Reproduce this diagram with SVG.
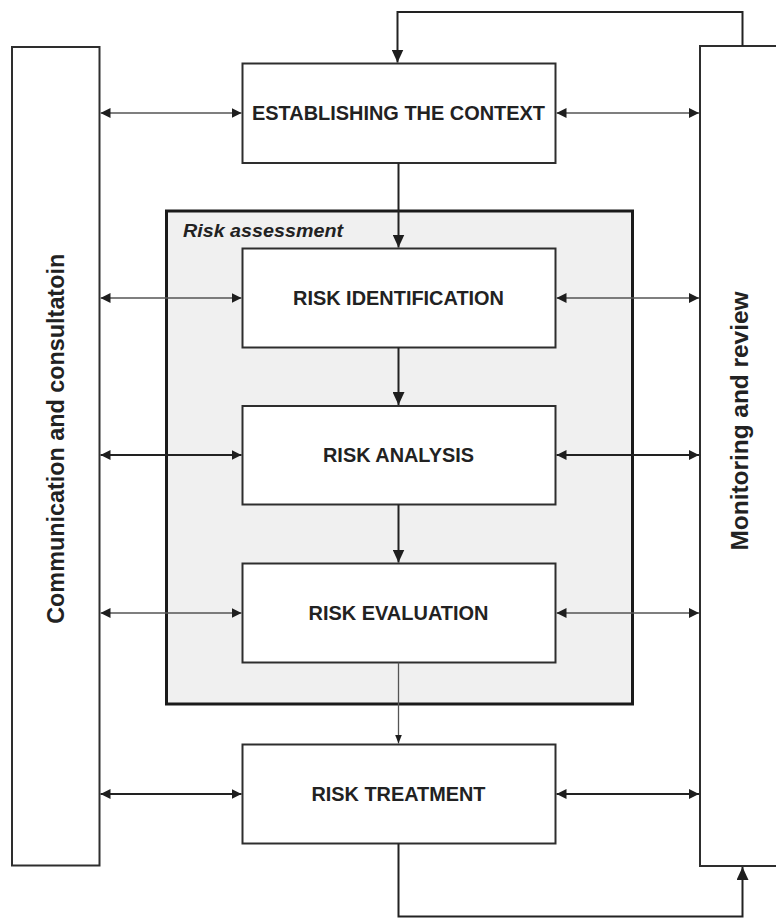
<svg xmlns="http://www.w3.org/2000/svg" width="776" height="919" viewBox="0 0 776 919">
<style>
.box{fill:#fff;stroke:#2e2e2e;stroke-width:2}
.bar{fill:#fff;stroke:#2e2e2e;stroke-width:2}
.lbl{font-family:"Liberation Sans",Arial,sans-serif;font-weight:bold;font-size:19.7px;fill:#222;text-anchor:middle}
.side{font-family:"Liberation Sans",Arial,sans-serif;font-weight:bold;font-size:23.4px;fill:#222;text-anchor:middle}
.thin{fill:none;stroke:#555;stroke-width:1.3}
.thick{fill:none;stroke:#222;stroke-width:2}
</style>
<defs>
<marker id="ah" markerUnits="userSpaceOnUse" markerWidth="10" markerHeight="10" refX="10" refY="5" orient="auto-start-reverse"><path d="M0,0 L10,5 L0,10 z" fill="#1e1e1e"/></marker>
<marker id="av" markerUnits="userSpaceOnUse" markerWidth="13" markerHeight="12" refX="13" refY="6" orient="auto"><path d="M0,0 L13,6 L0,12 z" fill="#1e1e1e"/></marker>
<marker id="as" markerUnits="userSpaceOnUse" markerWidth="9" markerHeight="7" refX="9" refY="3.5" orient="auto"><path d="M0,0 L9,3.5 L0,7 z" fill="#1e1e1e"/></marker>
</defs>

<g id="comm">
<rect class="bar" x="12" y="47" width="87.5" height="818.5"/>
<text class="side" transform="translate(63.5,438.8) rotate(-90)" textLength="370" lengthAdjust="spacingAndGlyphs">Communication and consultatoin</text>
</g>
<g id="monitor">
<rect class="bar" x="700" y="46" width="100" height="820"/>
<text class="side" transform="translate(747.5,421) rotate(-90)" textLength="259" lengthAdjust="spacingAndGlyphs">Monitoring and review</text>
</g>
<g id="assessment">
<rect x="166.5" y="211" width="466" height="493" fill="#f0f0f0" stroke="#1a1a1a" stroke-width="3"/>
<text x="183" y="237" font-family="'Liberation Sans',Arial,sans-serif" font-weight="bold" font-style="italic" font-size="18.5" fill="#222" textLength="160" lengthAdjust="spacingAndGlyphs">Risk assessment</text>
</g>
<g id="context">
<rect class="box" x="242.5" y="63.5" width="313" height="99.5"/>
<text class="lbl" x="398.5" y="120" textLength="293" lengthAdjust="spacingAndGlyphs">ESTABLISHING THE CONTEXT</text>
</g>
<g id="identification">
<rect class="box" x="242.5" y="248.5" width="313" height="99"/>
<text class="lbl" x="398.5" y="305" textLength="211" lengthAdjust="spacingAndGlyphs">RISK IDENTIFICATION</text>
</g>
<g id="analysis">
<rect class="box" x="242.5" y="406" width="313" height="98.5"/>
<text class="lbl" x="398.5" y="462" textLength="151" lengthAdjust="spacingAndGlyphs">RISK ANALYSIS</text>
</g>
<g id="evaluation">
<rect class="box" x="242.5" y="563.5" width="313" height="99"/>
<text class="lbl" x="398.5" y="620" textLength="180" lengthAdjust="spacingAndGlyphs">RISK EVALUATION</text>
</g>
<g id="treatment">
<rect class="box" x="242.5" y="744.5" width="313" height="99"/>
<text class="lbl" x="398.5" y="801" textLength="174" lengthAdjust="spacingAndGlyphs">RISK TREATMENT</text>
</g>

<g id="connectors">
<line class="thin" x1="100.5" y1="113" x2="241.5" y2="113" marker-start="url(#ah)" marker-end="url(#ah)"/>
<line class="thin" x1="556.5" y1="113" x2="699" y2="113" marker-start="url(#ah)" marker-end="url(#ah)"/>
<line class="thin" x1="100.5" y1="298" x2="241.5" y2="298" marker-start="url(#ah)" marker-end="url(#ah)"/>
<line class="thin" x1="556.5" y1="298" x2="699" y2="298" marker-start="url(#ah)" marker-end="url(#ah)"/>
<line class="thick" x1="100.5" y1="455" x2="241.5" y2="455" marker-start="url(#ah)" marker-end="url(#ah)"/>
<line class="thick" x1="556.5" y1="455" x2="699" y2="455" marker-start="url(#ah)" marker-end="url(#ah)"/>
<line class="thin" x1="100.5" y1="613" x2="241.5" y2="613" marker-start="url(#ah)" marker-end="url(#ah)"/>
<line class="thin" x1="556.5" y1="613" x2="699" y2="613" marker-start="url(#ah)" marker-end="url(#ah)"/>
<line class="thick" x1="100.5" y1="794" x2="241.5" y2="794" marker-start="url(#ah)" marker-end="url(#ah)"/>
<line class="thick" x1="556.5" y1="794" x2="699" y2="794" marker-start="url(#ah)" marker-end="url(#ah)"/>
<line class="thick" x1="398.5" y1="163" x2="398.5" y2="247.5" marker-end="url(#av)"/>
<line class="thick" x1="398.5" y1="347.5" x2="398.5" y2="405" marker-end="url(#av)"/>
<line class="thick" x1="398.5" y1="504.5" x2="398.5" y2="562.5" marker-end="url(#av)"/>
<line class="thin" x1="398.5" y1="662.5" x2="398.5" y2="743.5" marker-end="url(#as)"/>
<path class="thick" d="M742.5,46 V12 H397.5 V62.5" marker-end="url(#av)"/>
<path class="thick" d="M398.5,843.5 V916.5 H742.5 V867" marker-end="url(#av)"/>
</g>
</svg>
